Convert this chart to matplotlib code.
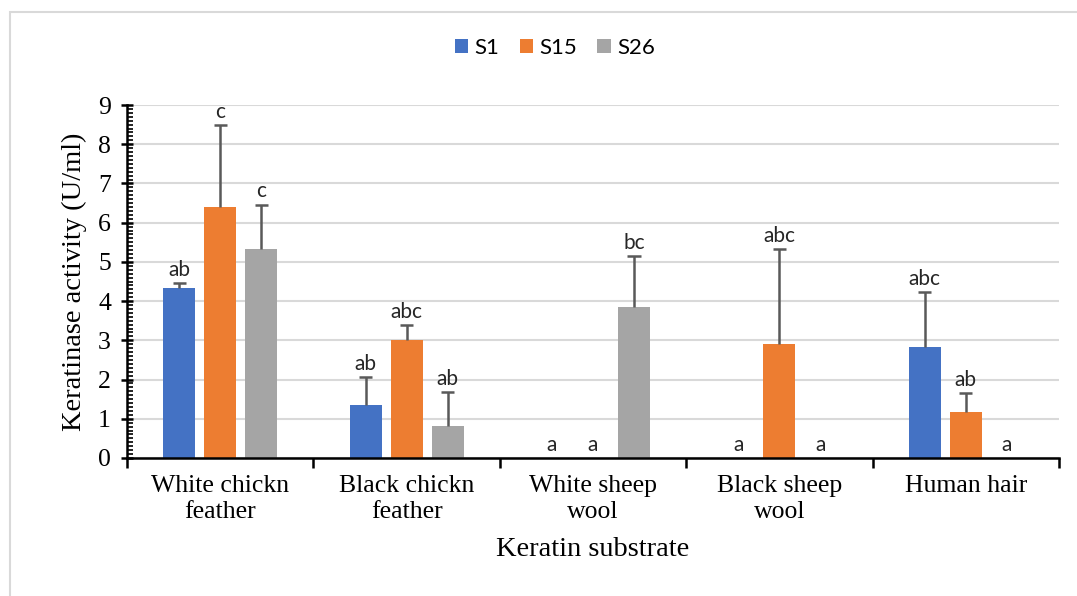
import numpy as np
import matplotlib.pyplot as plt
from matplotlib.ticker import MultipleLocator
from matplotlib.patches import Rectangle

# Keratinase activity of three isolates on different keratin substrates
substrates = ['White chickn\nfeather', 'Black chickn\nfeather', 'White sheep\nwool',
              'Black sheep\nwool', 'Human hair']
strains = ['S1', 'S15', 'S26']
s1 = [4.34, 1.36, 0.0, 0.0, 2.84]
s15 = [6.39, 3.01, 0.0, 2.91, 1.17]
s26 = [5.34, 0.82, 3.85, 0.0, 0.0]
s1_err = [0.13, 0.71, 0.0, 0.0, 1.38]
s15_err = [2.09, 0.37, 0.0, 2.41, 0.49]
s26_err = [1.12, 0.85, 1.30, 0.0, 0.0]
s1_sig = ['ab', 'ab', 'a', 'a', 'abc']
s15_sig = ['c', 'abc', 'a', 'abc', 'ab']
s26_sig = ['c', 'ab', 'bc', 'a', 'a']

colors = ['#4472C4', '#ED7D31', '#A5A5A5']
serif = 'Liberation Serif'
sans = 'Lato'

fig = plt.figure(figsize=(10.77, 5.96), dpi=100)
# light frame around the chart area
fig.patches.append(Rectangle((10 / 1077, -0.1), 1.2, 1 - 12 / 596 + 0.1, transform=fig.transFigure,
                             fill=False, edgecolor='#d9d9d9', linewidth=1.5))
ax = fig.add_axes([127 / 1077, 138 / 596, 932 / 1077, 353 / 596])

x = np.arange(len(substrates))
width = 0.172
step = 0.22
cap = 0.035
series = [(s1, s1_err, s1_sig), (s15, s15_err, s15_sig), (s26, s26_err, s26_sig)]
for i, (vals, errs, sigs) in enumerate(series):
    pos = x + (i - 1) * step
    ax.bar(pos, vals, width, color=colors[i], label=strains[i], zorder=3)
    for p, v, e, s in zip(pos, vals, errs, sigs):
        if v > 0:
            # upper error bar only
            ax.vlines(p, v, v + e, color='#595959', linewidth=1.8, zorder=4)
            ax.hlines(v + e, p - cap, p + cap, color='#595959', linewidth=1.8, zorder=4)
        ax.text(p, v + e + 0.08, s, ha='center', va='bottom', fontsize=15,
                family=sans, color='#262626', zorder=5)

ax.set_xlim(-0.5, 4.5)
ax.set_ylim(0, 9)
ax.yaxis.set_major_locator(MultipleLocator(1))
ax.yaxis.set_minor_locator(MultipleLocator(0.1))
ax.set_xticks(np.arange(-0.5, 5, 1))
ax.set_xticklabels([])
ax.set_xticks(x, minor=True)
ax.set_xticklabels(substrates, minor=True, fontsize=18.5, family=serif, linespacing=1.25)
ax.tick_params(axis='x', which='major', direction='out', length=7, width=1.8)
ax.tick_params(axis='x', which='minor', length=0, pad=12)
ax.tick_params(axis='y', which='major', direction='inout', length=9, width=1.8, labelsize=18.5, pad=7)
ax.tick_params(axis='y', which='minor', direction='in', length=4, width=1.2)
for lab in ax.get_yticklabels():
    lab.set_family(serif)

ax.grid(axis='y', color='#d9d9d9', linewidth=1.5, zorder=0)
for side in ['top', 'right']:
    ax.spines[side].set_visible(False)
for side in ['left', 'bottom']:
    ax.spines[side].set_linewidth(1.8)
    ax.spines[side].set_zorder(6)

ax.set_ylabel('Keratinase activity (U/ml)', fontsize=20.5, family=serif, labelpad=8)
ax.set_xlabel('Keratin substrate', fontsize=20.5, family=serif, labelpad=10)

fig.legend(loc='center', bbox_to_anchor=(555 / 1077, 1 - 48 / 596), ncol=3, frameon=False,
           prop={'family': sans, 'size': 16}, handlelength=0.6, handleheight=0.6,
           handletextpad=0.3, columnspacing=0.9)

fig.savefig('out.png', dpi=100)
